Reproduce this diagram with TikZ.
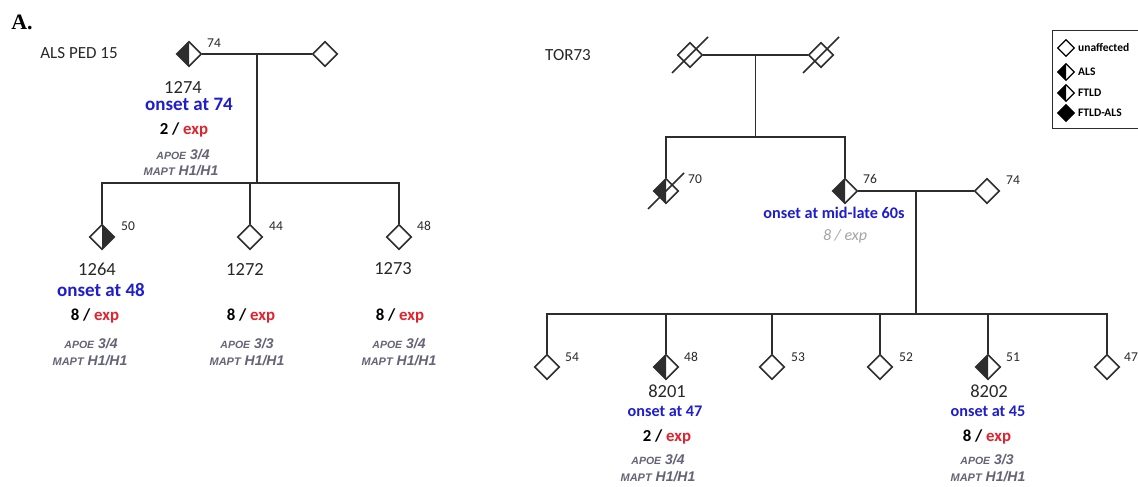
\documentclass[tikz,border=0pt]{standalone}
\usepackage{fontspec}
\setmainfont{Carlito}
\newfontfamily\arialf{Liberation Sans}
\newfontfamily\serifA{Liberation Serif}
\usetikzlibrary{shapes.geometric,calc}
\definecolor{lc}{RGB}{45,45,45}
\definecolor{onsetblue}{RGB}{30,30,205}
\definecolor{expred}{RGB}{225,35,45}
\definecolor{geno}{RGB}{100,100,118}
\definecolor{lightg}{RGB}{165,165,165}
\definecolor{idc}{RGB}{40,40,40}
\tikzset{
  ln/.style={line width=1.6pt, draw=lc},
  ind/.style={diamond, draw=lc, line width=1.6pt, minimum width=25pt, minimum height=25pt, inner sep=0pt, fill=white},
  lh/.style={ind, path picture={\fill[lc] (path picture bounding box.north) -- (path picture bounding box.west) -- (path picture bounding box.south) -- cycle;}},
  rh/.style={ind, path picture={\fill[lc] (path picture bounding box.north) -- (path picture bounding box.east) -- (path picture bounding box.south) -- cycle;}},
  leg/.style={diamond, draw=black, line width=1.3pt, minimum width=17pt, minimum height=17pt, inner sep=0pt, fill=white},
  leglh/.style={leg, path picture={\fill[black] (path picture bounding box.north) -- (path picture bounding box.west) -- (path picture bounding box.south) -- cycle;}},
  legtxt/.style={anchor=west, font=\bfseries\fontsize{11.5}{13}\selectfont, inner sep=0pt},
  age/.style={anchor=west, inner sep=0pt, font=\fontsize{13.5}{15}\selectfont, text=idc},
  idl/.style={inner sep=0pt, font=\fontsize{18.5}{20}\selectfont, text=idc},
  onsetL/.style={inner sep=0pt, font=\bfseries\fontsize{19}{21}\selectfont, text=onsetblue},
  onsetR/.style={inner sep=0pt, font=\bfseries\fontsize{16.2}{18}\selectfont, text=onsetblue},
  expl/.style={inner sep=0pt, font=\bfseries\fontsize{16.8}{18}\selectfont},
  gen/.style={inner sep=0pt, font=\arialf\bfseries\itshape\fontsize{14}{16}\selectfont, text=geno},
  title/.style={inner sep=0pt, font=\fontsize{17}{19}\selectfont, text=idc},
}
\newcommand{\ex}[1]{\textcolor{black}{#1 /} \textcolor{expred}{exp}}
\newcommand{\apoe}[1]{{\fontsize{10.5}{12}\selectfont APOE} #1}
\newcommand{\mapt}{{\fontsize{11}{12}\selectfont MAPT} H1/H1}
\begin{document}
\begin{tikzpicture}[x=1pt,y=-1pt]
\useasboundingbox[fill=white] (0,0) rectangle (1138,487);

% ---------- Panel label ----------
\node[inner sep=0pt, font=\serifA\bfseries\fontsize{22}{24}\selectfont] (lblA) at (22,22) {A.};

% ---------- ALS PED 15 ----------
\node[title] (t1) at (79,53) {ALS PED 15};
\node[lh] (p1274) at (189,54) {};
\node[ind] (p1274s) at (325,54) {};
\node[age] (a1274) at (207,43) {74};
\coordinate (m1) at ($(p1274.east)!0.5!(p1274s.west)$);
\coordinate (s1) at (m1 |- 0,183);
\draw[ln] (p1274.east) -- (p1274s.west);
\draw[ln] (m1) -- (s1);

\node[rh] (c1264) at (102,237) {};
\node[ind] (c1272) at (250,237) {};
\node[ind] (c1273) at (399,237) {};
\node[age] (a1264) at (121,226) {50};
\node[age] (a1272) at (269,226) {44};
\node[age] (a1273) at (417,226) {48};
\draw[ln] (c1264.north) -- (c1264.north |- s1) -- (c1273.north |- s1) -- (c1273.north);
\draw[ln] (c1272.north) -- (c1272.north |- s1);

\node[idl] (i1274) at (183,87) {1274};
\node[onsetL] (o1274) at (189,104) {onset at 74};
\node[expl] (e1274) at (184,130) {\ex{2}};
\node[gen] (g1274) at (183,155) {\apoe{3/4}};
\node[gen] (h1274) at (181,171) {\mapt};

\node[idl] (i1264) at (97,269) {1264};
\node[onsetL] (o1264) at (101,290) {onset at 48};
\node[expl] (e1264) at (95,316) {\ex{8}};
\node[gen] (g1264) at (91,344) {\apoe{3/4}};
\node[gen] (h1264) at (90,361) {\mapt};

\node[idl] (i1272) at (245,269) {1272};
\node[expl] (e1272) at (251,316) {\ex{8}};
\node[gen] (g1272) at (247,344) {\apoe{3/3}};
\node[gen] (h1272) at (247,361) {\mapt};

\node[idl] (i1273) at (393,269) {1273};
\node[expl] (e1273) at (400,316) {\ex{8}};
\node[gen] (g1273) at (399,344) {\apoe{3/4}};
\node[gen] (h1273) at (399,361) {\mapt};

% ---------- TOR73 ----------
\node[title] (t2) at (568,55) {TOR73};
\node[ind] (gp1) at (690,55) {};
\node[ind] (gp2) at (821,55) {};
\draw[ln] (gp1.east) -- (gp2.west);
\draw[lc, line width=1.5pt] ($(gp1.center)+(-18,18)$) -- ($(gp1.center)+(18,-18)$);
\draw[lc, line width=1.5pt] ($(gp2.center)+(-18,18)$) -- ($(gp2.center)+(18,-18)$);
\coordinate (m2) at ($(gp1.east)!0.5!(gp2.west)$);
\coordinate (s2) at (m2 |- 0,137);
\draw[ln] (m2) -- (s2);

\node[lh] (c70) at (666,191) {};
\node[lh] (c76) at (845,191) {};
\node[ind] (sp74) at (987,191) {};
\draw[lc, line width=1.5pt] ($(c70.center)+(-18,18)$) -- ($(c70.center)+(18,-18)$);
\node[age] (a70) at (688,179) {70};
\node[age] (a76) at (863,179) {76};
\node[age] (a74) at (1006,180) {74};
\draw[ln] (c70.north) -- (c70.north |- s2) -- (c76.north |- s2) -- (c76.north);
\draw[ln] (c76.east) -- (sp74.west);
\coordinate (m3) at ($(c76.east)!0.5!(sp74.west)$);
\coordinate (s3) at (m3 |- 0,314);
\draw[ln] (m3) -- (s3);

\node[onsetR] (o76) at (834,213) {onset at mid-late 60s};
\node[inner sep=0pt, font=\itshape\fontsize{16}{18}\selectfont, text=lightg] (e76) at (845,236) {8 / exp};

\node[ind] (d54) at (547,367) {};
\node[lh] (d8201) at (666,367) {};
\node[ind] (d53) at (772,367) {};
\node[ind] (d52) at (880,367) {};
\node[lh] (d8202) at (988,367) {};
\node[ind] (d47) at (1107,367) {};
\draw[ln] (d54.north) -- (d54.north |- s3) -- (d47.north |- s3) -- (d47.north);
\foreach \n in {d8201,d53,d52,d8202} \draw[ln] (\n.north) -- (\n.north |- s3);
\node[age] (a54) at (565,357) {54};
\node[age] (a48) at (684,357) {48};
\node[age] (a53) at (791,357) {53};
\node[age] (a52) at (899,357) {52};
\node[age] (a51) at (1006,357) {51};
\node[age] (a47) at (1124,357) {47};

\node[idl] (i8201) at (667,391) {8201};
\node[onsetR] (o8201) at (665,411) {onset at 47};
\node[expl] (e8201) at (667,437) {\ex{2}};
\node[gen] (g8201) at (658,460) {\apoe{3/4}};
\node[gen] (h8201) at (658,477) {\mapt};

\node[idl] (i8202) at (989,391) {8202};
\node[onsetR] (o8202) at (988,411) {onset at 45};
\node[expl] (e8202) at (987,437) {\ex{8}};
\node[gen] (g8202) at (987,460) {\apoe{3/3}};
\node[gen] (h8202) at (988,477) {\mapt};

% ---------- Legend ----------
\draw[lc, line width=0.9pt] (1152,30) -- (1052,30) -- (1052,128) -- (1152,128);
\node[leg] (lu) at (1066,48) {};
\node[leglh] (la) at (1066,72) {};
\node[leglh] (lf) at (1066,93) {};
\node[leg, fill=black] (lfa) at (1066,113) {};
\node[legtxt] (tu) at (1078,48) {unaffected};
\node[legtxt] (ta) at (1078,72) {ALS};
\node[legtxt] (tf) at (1078,93) {FTLD};
\node[legtxt] (tfa) at (1078,113) {FTLD-ALS};
\end{tikzpicture}
\end{document}
